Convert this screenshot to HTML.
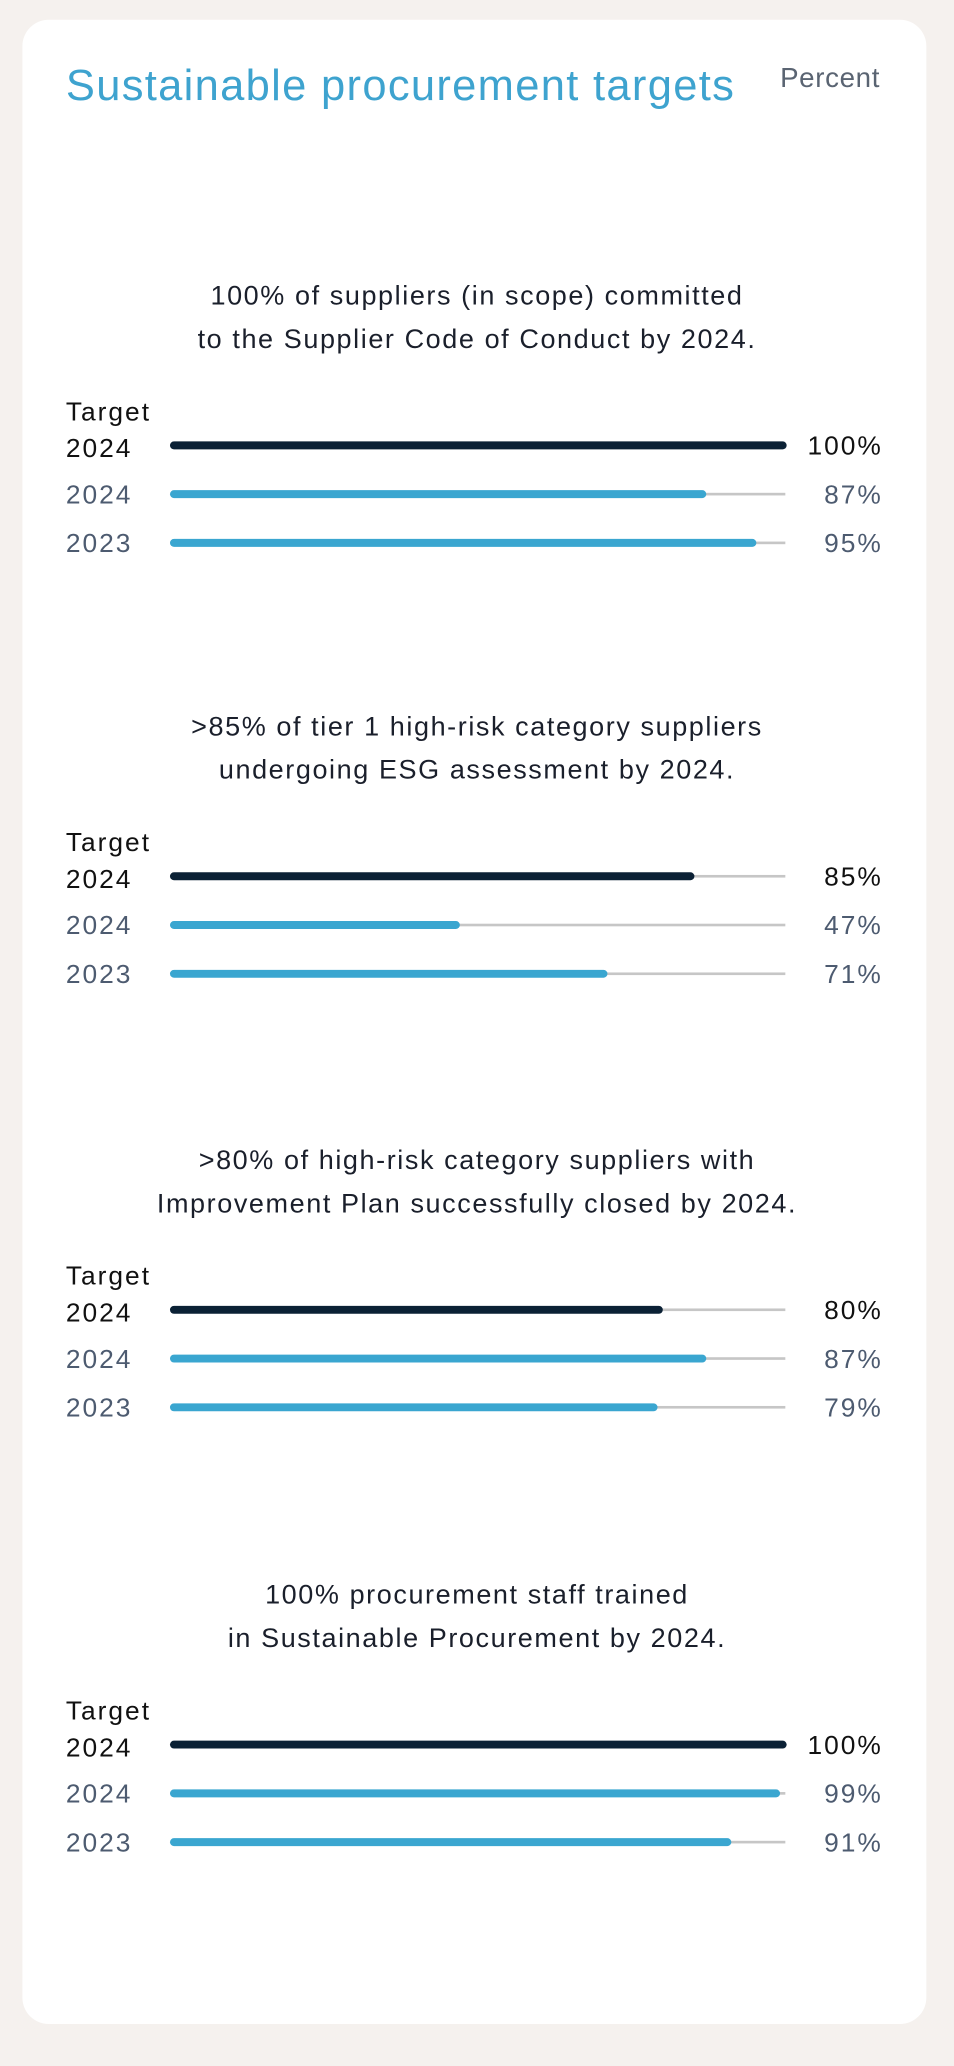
<!DOCTYPE html>
<html><head><meta charset="utf-8"><style>
html,body{margin:0;padding:0;background:#f5f1ee;width:954px;height:2066px;overflow:hidden}
#w{position:absolute;left:0;top:0;width:724px;height:1568px;transform:scale(1.31768);transform-origin:0 0;font-family:"Liberation Sans",sans-serif}
.card{position:absolute;left:17px;top:15px;width:686px;height:1521px;background:#fff;border-radius:20px}
.t{position:absolute;white-space:nowrap}
.title{left:50px;top:46px;font-size:33px;color:#3ea3cf;letter-spacing:1.0px}
.pct{left:592px;top:48px;font-size:21px;color:#5a6472;letter-spacing:0.5px}
.h{left:0;width:724px;text-align:center;font-size:20.5px;color:#1a1f2b;line-height:33px;letter-spacing:1.2px}
.lab{left:50px;font-size:20px;line-height:28px;letter-spacing:1.5px}
.dk{color:#111}
.gr{color:#4d5b70}
.val{right:54px;font-size:20px;text-align:right;line-height:28px;letter-spacing:1.5px}
.track{position:absolute;left:130px;width:466px;height:2px;background:#c6c6c6}
.bar{position:absolute;left:129px;height:6px;border-radius:3px}
.n{background:#0b2135}
.b{background:#3aa6d0}
</style></head><body><div id="w">
<div class="card"></div>
<div class="t title">Sustainable procurement targets</div>
<div class="t pct">Percent</div>
<div id="c"></div>
</div>
<script>
var S=[[224,"100% of suppliers (in scope) committed","to the Supplier Code of Conduct by 2024.",[100,87,95]],
[551,"&gt;85% of tier 1 high-risk category suppliers","undergoing ESG assessment by 2024.",[85,47,71]],
[880,"&gt;80% of high-risk category suppliers with","Improvement Plan successfully closed by 2024.",[80,87,79]],
[1210,"100% procurement staff trained","in Sustainable Procurement by 2024.",[100,99,91]]];
var h="";
S.forEach(function(s){var H=s[0];
h+='<div class="t h" style="top:'+(H-16)+'px">'+s[1]+'</div><div class="t h" style="top:'+(H+17)+'px">'+s[2]+'</div>';
h+='<div class="t lab dk" style="top:'+(H+75)+'px">Target</div><div class="t lab dk" style="top:'+(H+103)+'px">2024</div>';
h+='<div class="t lab gr" style="top:'+(H+138)+'px">2024</div><div class="t lab gr" style="top:'+(H+175)+'px">2023</div>';
var ys=[H+114,H+151,H+188];
for(var i=0;i<3;i++){var y=ys[i],p=s[3][i];
h+='<div class="track" style="top:'+(y-1)+'px"></div>';
h+='<div class="bar '+(i?'b':'n')+'" style="top:'+(y-3)+'px;width:'+(468*p/100)+'px"></div>';
h+='<div class="t val '+(i?'gr':'dk')+'" style="top:'+(y-13)+'px">'+p+'%</div>';}
});
document.getElementById("c").innerHTML=h;
</script>
</body></html>
